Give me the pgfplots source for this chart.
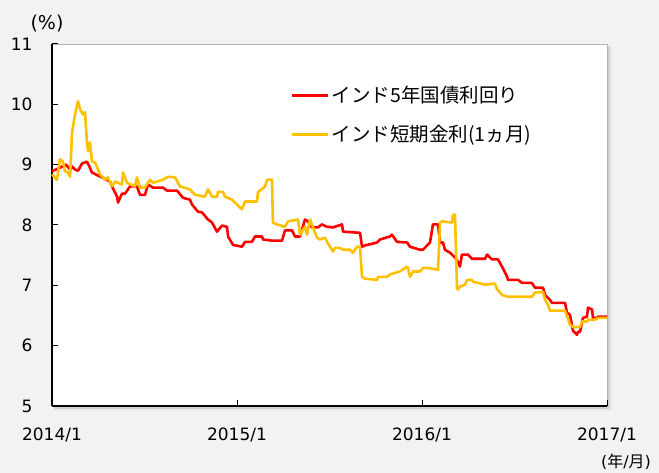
\documentclass[border=0pt]{standalone}
\usepackage{pgfplots}
\pgfplotsset{compat=1.18}
\usepackage{fontspec}
\setmainfont{DejaVu Sans}
\newfontfamily\cjk{Noto Sans CJK JP}
\definecolor{bgc}{HTML}{F2F2F2}
\definecolor{redl}{HTML}{FF0000}
\definecolor{yell}{HTML}{FFC000}
\begin{document}
\begin{tikzpicture}
\fill[bgc] (0,0) rectangle (659pt,473pt);
\useasboundingbox (0,0) rectangle (659pt,473pt);
\fill[black!8] (54pt,62pt) rectangle (612pt,427pt);
\fill[black!18] (54pt,64pt) rectangle (610pt,427pt);
\begin{axis}[
  at={(52pt,67pt)}, anchor=south west,
  scale only axis, width=555pt, height=362pt,
  xmin=0, xmax=36, ymin=5, ymax=11,
  axis x line*=bottom, axis y line*=left,
  axis line style={black, line width=1.6pt},
  axis background/.style={fill=white, draw=black!30, line width=0.8pt},
  xtick={0,12,24,36}, xticklabels={2014/1,2015/1,2016/1,2017/1},
  ytick={5,6,7,8,9,10,11},
  tick align=inside, major tick length=6pt,
  tick style={black, line width=1pt},
  /pgf/number format/assume math mode=true,
  tick label style={font=\fontsize{17}{20}\selectfont},
  xticklabel style={yshift=-18pt},
  yticklabel style={xshift=-16pt},
  clip=false,
  legend style={at={(0.43,0.889)}, anchor=north west, draw=none, fill=none,
    inner sep=0pt, row sep=17pt, font=\cjk\fontsize{19.5}{22}\selectfont,
    nodes={inner sep=2pt}},
  legend cell align=left,
  legend image code/.code={\draw[#1, line width=3pt] (0pt,0pt) -- (36pt,0pt);},
]
\addplot[redl, line width=2.6pt, line join=round] coordinates {
(0,8.89) (0.52,8.95) (0.91,9.00) (1.17,8.92) (1.30,8.97) (1.49,8.92) (1.69,8.90)
(1.95,9.02) (2.27,9.05) (2.46,8.95) (2.59,8.87) (2.98,8.82) (3.24,8.79) (3.76,8.72)
(3.89,8.64) (4.22,8.47) (4.28,8.37) (4.54,8.52) (4.74,8.52) (5.06,8.64) (5.51,8.64)
(5.71,8.50) (6.03,8.50) (6.23,8.67) (6.55,8.62) (7.20,8.62) (7.46,8.57) (8.11,8.57)
(8.50,8.45) (8.95,8.42) (9.08,8.34) (9.47,8.22) (9.73,8.21) (10.12,8.09) (10.38,8.04)
(10.70,7.89) (11.03,7.99) (11.35,7.97) (11.42,7.81) (11.74,7.67) (12.32,7.64) (12.52,7.72)
(12.97,7.72) (13.17,7.81) (13.62,7.81) (13.69,7.76) (14.27,7.74) (14.92,7.74) (15.11,7.91)
(15.57,7.91) (15.76,7.81) (16.09,7.81) (16.41,8.09) (16.61,8.06) (16.86,7.96) (17.25,7.96)
(17.51,8.01) (17.84,7.97) (18.23,7.96) (18.81,8.01) (18.88,7.89) (19.98,7.87) (20.11,7.64)
(20.30,7.66) (21.08,7.71) (21.28,7.76) (21.92,7.81) (22.05,7.84) (22.38,7.72) (23.03,7.71)
(23.22,7.64) (23.87,7.59) (24.06,7.59) (24.52,7.71) (24.71,8.01) (25.04,8.01) (25.17,7.71)
(25.36,7.71) (25.49,7.59) (25.82,7.54) (26.14,7.46) (26.33,7.39) (26.46,7.31) (26.59,7.51)
(26.98,7.51) (27.24,7.44) (28.09,7.44) (28.22,7.51) (28.54,7.43) (28.93,7.43) (29.19,7.31)
(29.51,7.15) (29.58,7.09) (30.23,7.09) (30.49,7.04) (31.13,7.04) (31.33,6.96) (31.85,6.96)
(31.98,6.84) (32.30,6.76) (32.43,6.71) (33.28,6.71) (33.40,6.55) (33.60,6.51) (33.79,6.25)
(34.05,6.18) (34.12,6.23) (34.25,6.23) (34.44,6.46) (34.70,6.48) (34.77,6.63) (35.03,6.60)
(35.09,6.46) (35.35,6.46) (35.42,6.48) (36,6.48)
};
\addlegendentry{インド5年国債利回り}
\addplot[yell, line width=2.6pt, line join=round] coordinates {
(0,8.84) (0.32,8.75) (0.52,9.09) (0.71,9.05) (0.84,8.89) (1.04,8.87) (1.17,8.80)
(1.30,9.53) (1.49,9.83) (1.69,10.05) (1.82,9.92) (2.01,9.83) (2.14,9.87) (2.27,9.37)
(2.34,9.22) (2.46,9.37) (2.59,9.05) (2.79,9.04) (2.98,8.92) (3.11,8.84) (3.44,8.75)
(3.63,8.79) (3.89,8.64) (4.09,8.72) (4.54,8.67) (4.61,8.87) (4.86,8.70) (5.38,8.64)
(5.51,8.79) (5.71,8.62) (6.03,8.62) (6.36,8.75) (6.55,8.70) (7.20,8.75) (7.52,8.80)
(7.98,8.79) (8.30,8.64) (8.95,8.59) (9.08,8.55) (9.28,8.50) (9.92,8.47) (10.12,8.59)
(10.38,8.47) (10.70,8.47) (10.77,8.55) (11.09,8.55) (11.22,8.47) (11.68,8.42) (11.87,8.37)
(12.32,8.26) (12.52,8.39) (13.30,8.39) (13.36,8.54) (13.82,8.64) (13.95,8.75) (14.27,8.75)
(14.33,8.04) (14.59,8.01) (15.11,7.97) (15.31,8.06) (15.96,8.09) (16.09,7.84) (16.28,7.92)
(16.41,7.97) (16.54,7.84) (16.74,8.09) (16.93,7.96) (17.19,7.79) (17.38,7.76) (17.71,7.79)
(17.84,7.72) (18.23,7.56) (18.36,7.62) (18.68,7.62) (18.88,7.59) (19.33,7.59) (19.52,7.54)
(19.78,7.64) (19.98,7.64) (20.11,7.14) (20.30,7.11) (21.08,7.09) (21.15,7.14) (21.73,7.14)
(21.92,7.18) (22.57,7.23) (23.03,7.31) (23.09,7.29) (23.22,7.14) (23.42,7.23) (23.87,7.23)
(24.06,7.29) (24.32,7.29) (25.04,7.26) (25.17,8.04) (25.30,8.06) (25.95,8.04) (26.01,8.17)
(26.14,8.17) (26.27,6.96) (26.33,6.93) (26.46,6.98) (26.79,7.01) (26.92,7.09) (27.24,7.09)
(27.31,7.06) (28.09,7.01) (28.73,7.03) (28.86,6.94) (29.19,6.84) (29.58,6.81) (31.13,6.81)
(31.33,6.88) (31.85,6.89) (31.98,6.76) (32.17,6.68) (32.30,6.58) (33.28,6.58) (33.60,6.35)
(33.79,6.31) (34.25,6.31) (34.38,6.40) (34.70,6.40) (34.77,6.43) (35.22,6.43) (35.42,6.46)
(36,6.46)
};
\addlegendentry{インド短期金利(1ヵ月)}
\end{axis}
\node[font=\fontsize{19}{22}\selectfont] at (47pt,449pt) {(\%)};
\node[font=\fontsize{16}{19}\selectfont] at (626pt,11pt) {({\cjk 年}/{\cjk 月})};
\end{tikzpicture}
\end{document}
